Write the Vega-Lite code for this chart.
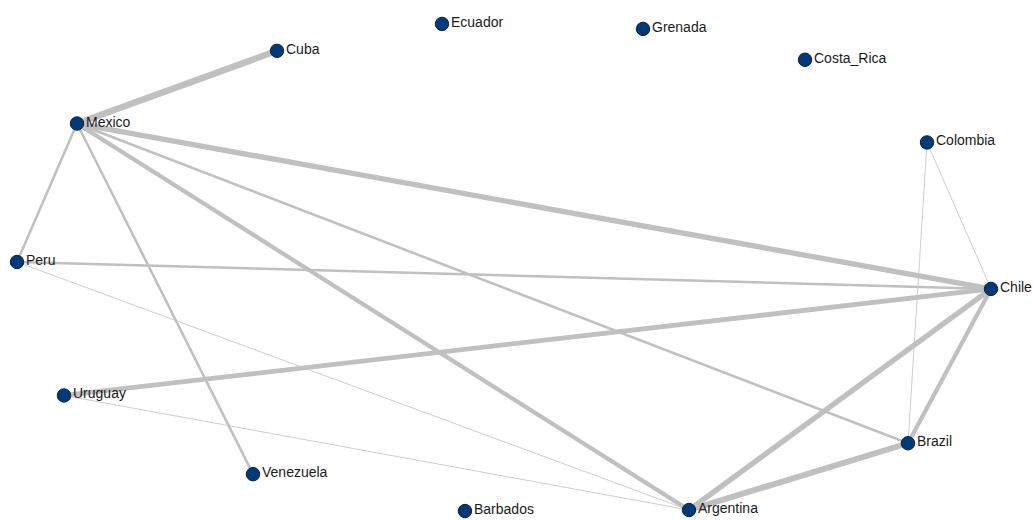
{
  "$schema": "https://vega.github.io/schema/vega-lite/v6.json",
  "autosize": {"type": "fit", "contains": "padding"},
  "width": 1034,
  "height": 520,
  "padding": 0,
  "background": "white",
  "config": {"view": {"stroke": null}},
  "datasets": {
    "nodes": [
      {"name": "Cuba", "x": 277, "y": 51},
      {"name": "Ecuador", "x": 442, "y": 24},
      {"name": "Grenada", "x": 643, "y": 29},
      {"name": "Costa_Rica", "x": 805, "y": 60},
      {"name": "Mexico", "x": 77, "y": 124},
      {"name": "Colombia", "x": 927, "y": 143},
      {"name": "Peru", "x": 17, "y": 263},
      {"name": "Chile", "x": 991, "y": 290},
      {"name": "Uruguay", "x": 64, "y": 397},
      {"name": "Brazil", "x": 908, "y": 445},
      {"name": "Venezuela", "x": 253, "y": 476},
      {"name": "Barbados", "x": 465, "y": 513},
      {"name": "Argentina", "x": 689, "y": 512}
    ],
    "edges": [
      {"source": "Mexico", "target": "Cuba", "weight": 6},
      {"source": "Mexico", "target": "Chile", "weight": 5},
      {"source": "Mexico", "target": "Peru", "weight": 2.5},
      {"source": "Mexico", "target": "Venezuela", "weight": 2.5},
      {"source": "Mexico", "target": "Argentina", "weight": 4},
      {"source": "Mexico", "target": "Brazil", "weight": 2.5},
      {"source": "Peru", "target": "Chile", "weight": 2.5},
      {"source": "Peru", "target": "Argentina", "weight": 1},
      {"source": "Uruguay", "target": "Chile", "weight": 4.5},
      {"source": "Uruguay", "target": "Argentina", "weight": 1},
      {"source": "Chile", "target": "Argentina", "weight": 5},
      {"source": "Chile", "target": "Brazil", "weight": 4},
      {"source": "Brazil", "target": "Argentina", "weight": 5.5},
      {"source": "Colombia", "target": "Chile", "weight": 1},
      {"source": "Colombia", "target": "Brazil", "weight": 1}
    ]
  },
  "layer": [
    {
      "data": {"name": "edges"},
      "transform": [
        {"lookup": "source", "from": {"data": {"name": "nodes"}, "key": "name", "fields": ["x", "y"]}, "as": ["sx", "sy"]},
        {"lookup": "target", "from": {"data": {"name": "nodes"}, "key": "name", "fields": ["x", "y"]}, "as": ["tx", "ty"]}
      ],
      "mark": {"type": "rule", "color": "#c0c0c0"},
      "encoding": {
        "x": {"field": "sx", "type": "quantitative", "scale": {"domain": [0, 1034]}, "axis": null},
        "y": {"field": "sy", "type": "quantitative", "scale": {"domain": [520, 0]}, "axis": null},
        "x2": {"field": "tx"},
        "y2": {"field": "ty"},
        "strokeWidth": {"field": "weight", "type": "quantitative", "scale": {"domain": [1, 6], "range": [0.8, 6.5]}, "legend": null}
      }
    },
    {
      "data": {"name": "nodes"},
      "mark": {"type": "circle", "size": 180, "color": "#003a7a", "opacity": 1, "stroke": "#0a1f3d", "strokeWidth": 1},
      "encoding": {
        "x": {"field": "x", "type": "quantitative", "scale": {"domain": [0, 1034]}, "axis": null},
        "y": {"field": "y", "type": "quantitative", "scale": {"domain": [520, 0]}, "axis": null}
      }
    },
    {
      "data": {"name": "nodes"},
      "mark": {"type": "text", "align": "left", "baseline": "middle", "dx": 9, "dy": -1, "font": "Liberation Sans", "fontSize": 14, "color": "#1a1a1a"},
      "encoding": {
        "x": {"field": "x", "type": "quantitative", "scale": {"domain": [0, 1034]}, "axis": null},
        "y": {"field": "y", "type": "quantitative", "scale": {"domain": [520, 0]}, "axis": null},
        "text": {"field": "name"}
      }
    }
  ]
}
